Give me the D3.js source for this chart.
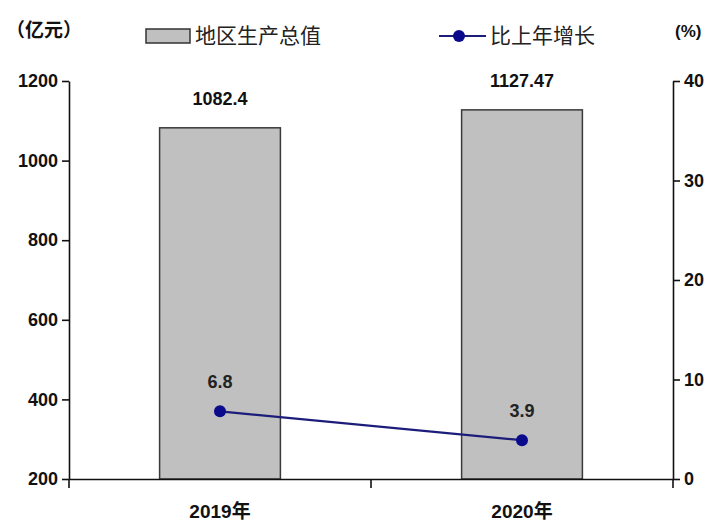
<!DOCTYPE html>
<html><head><meta charset="utf-8">
<script src="https://cdn.jsdelivr.net/npm/d3@7"></script>
<style>body{margin:0;background:#fff}svg{display:block}</style>
</head><body>
<svg id="c" width="715" height="523"></svg>
<script>
const categories = ["2019年", "2020年"];
const gdpValues = [1082.4, 1127.47];
const growthValues = [6.8, 3.9];
const leftTicks = [200, 400, 600, 800, 1000, 1200];
const rightTicks = [0, 10, 20, 30, 40];

const svg = d3.select("#c");
const L = 69, R = 673, T = 81, B = 479;
const numFont = "'Liberation Sans',Arial,'Noto Sans CJK SC',sans-serif";
const cjkFont = "'Noto Sans CJK SC',sans-serif";

const x = d3.scaleBand().domain(categories).range([L, R]).padding(0);
const yL = d3.scaleLinear().domain([200, 1200]).range([B, T]);
const yR = d3.scaleLinear().domain([0, 40]).range([B, T]);
const barW = x.bandwidth() * 0.4;

// bars
svg.selectAll("rect.bar").data(gdpValues).enter().append("rect")
  .attr("x", (d, i) => x(categories[i]) + x.bandwidth() / 2 - barW / 2)
  .attr("y", d => yL(d))
  .attr("width", barW)
  .attr("height", d => B - yL(d))
  .attr("fill", "#c0c0c0").attr("stroke", "#3a3a3a").attr("stroke-width", 1.5);

// axes
const axL = svg.append("g").attr("transform", `translate(${L},0)`)
  .call(d3.axisLeft(yL).tickValues(leftTicks).tickFormat(d3.format("d")).tickSize(7).tickSizeOuter(0).tickPadding(4));
const axR = svg.append("g").attr("transform", `translate(${R},0)`)
  .call(d3.axisRight(yR).tickValues(rightTicks).tickFormat(d3.format("d")).tickSize(7).tickSizeOuter(0).tickPadding(4));
const axB = svg.append("g").attr("transform", `translate(0,${B})`)
  .call(d3.axisBottom(x).tickSize(0).tickPadding(32).tickSizeOuter(0));
[axL, axR, axB].forEach(g => {
  g.selectAll("path,line").attr("stroke", "#111").attr("stroke-width", 1.6);
  g.selectAll("text").attr("fill", "#111").style("font-family", numFont)
    .style("font-weight", "bold").style("font-size", "18px");
});
axB.selectAll("text").style("font-size", "19px").attr("dy", "0.35em");
// category separator ticks
const sepX = [L, L + x.bandwidth(), R];
svg.selectAll("line.sep").data(sepX).enter().append("line")
  .attr("x1", d => d).attr("x2", d => d).attr("y1", B).attr("y2", B + 9)
  .attr("stroke", "#111").attr("stroke-width", 1.6);

// bar labels
svg.selectAll("text.bl").data(gdpValues).enter().append("text")
  .attr("x", (d, i) => x(categories[i]) + x.bandwidth() / 2)
  .attr("y", d => yL(d) - 23)
  .attr("text-anchor", "middle")
  .style("font-family", numFont).style("font-weight", "bold").style("font-size", "18px")
  .attr("fill", "#111").text(d => d);

// line
const cx = (i) => x(categories[i]) + x.bandwidth() / 2;
const line = d3.line().x((d, i) => cx(i)).y(d => yR(d));
svg.append("path").datum(growthValues).attr("d", line)
  .attr("fill", "none").attr("stroke", "#1c1c7a").attr("stroke-width", 2.2);
svg.selectAll("circle.pt").data(growthValues).enter().append("circle")
  .attr("cx", (d, i) => cx(i)).attr("cy", d => yR(d)).attr("r", 6)
  .attr("fill", "#0a0a8c");
svg.selectAll("text.pl").data(growthValues).enter().append("text")
  .attr("x", (d, i) => cx(i)).attr("y", d => yR(d) - 23)
  .attr("text-anchor", "middle")
  .style("font-family", numFont).style("font-weight", "bold").style("font-size", "18px")
  .attr("fill", "#222").text(d => d.toFixed(1));

// units
svg.append("text").attr("x", 6).attr("y", 37).text("（亿元）")
  .style("font-family", cjkFont).style("font-weight", "bold").style("font-size", "19px").attr("fill", "#111");
svg.append("text").attr("x", 675).attr("y", 37).text("(%)")
  .style("font-family", numFont).style("font-weight", "bold").style("font-size", "17px").attr("fill", "#111");

// legend
svg.append("rect").attr("x", 146).attr("y", 29).attr("width", 44).attr("height", 14)
  .attr("fill", "#c0c0c0").attr("stroke", "#333").attr("stroke-width", 1.5);
svg.append("text").attr("x", 195).attr("y", 43).text("地区生产总值")
  .style("font-family", cjkFont).style("font-size", "21px").attr("fill", "#222");
svg.append("line").attr("x1", 439).attr("x2", 486).attr("y1", 36).attr("y2", 36)
  .attr("stroke", "#1c1c7a").attr("stroke-width", 2.2);
svg.append("circle").attr("cx", 459).attr("cy", 36).attr("r", 6).attr("fill", "#0a0a8c");
svg.append("text").attr("x", 490).attr("y", 43).text("比上年增长")
  .style("font-family", cjkFont).style("font-size", "21px").attr("fill", "#222");
</script>
</body></html>
